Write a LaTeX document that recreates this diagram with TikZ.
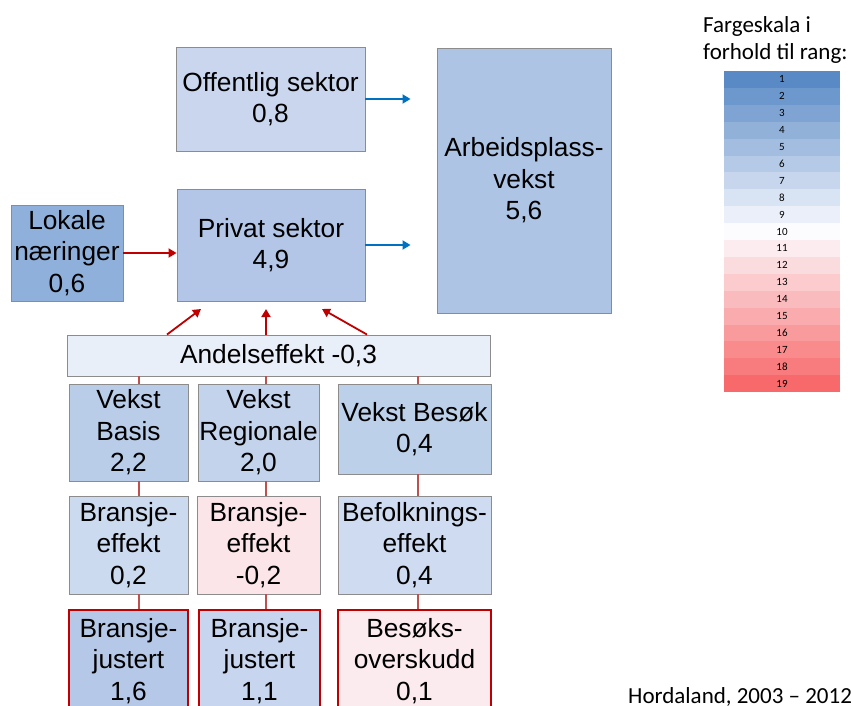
\documentclass[tikz,border=0pt]{standalone}
\usepackage{fontspec}
\setmainfont{Liberation Sans}
\newfontfamily\calfont{Carlito}
\usetikzlibrary{arrows.meta,calc}
\definecolor{boxgray}{HTML}{8C8C8C}
\definecolor{darkred}{HTML}{C00000}
\definecolor{linkred}{HTML}{C0504D}
\definecolor{flowblue}{HTML}{0070C0}
\definecolor{scaleblue}{HTML}{5A8AC6}
\definecolor{scalewhite}{HTML}{FCFCFF}
\definecolor{scalered}{HTML}{F8696B}
\definecolor{cOffentlig}{HTML}{C9D6EE}
\definecolor{cPrivat}{HTML}{B3C6E7}
\definecolor{cLokale}{HTML}{8FB0DB}
\definecolor{cArbeid}{HTML}{ADC4E5}
\definecolor{cAndel}{HTML}{E9EFF9}
\definecolor{cVBasis}{HTML}{B9CDE9}
\definecolor{cVReg}{HTML}{C3D3EC}
\definecolor{cVBesok}{HTML}{BDD0EA}
\definecolor{cBeffA}{HTML}{CCDAF0}
\definecolor{cBeffB}{HTML}{FBE5E9}
\definecolor{cBefolk}{HTML}{CEDBF0}
\definecolor{cJustA}{HTML}{B5C8E7}
\definecolor{cJustB}{HTML}{C7D6EE}
\definecolor{cBesoks}{HTML}{FBEAEE}
\newcommand{\boxfont}{\fontsize{26.3}{31.5}\selectfont}
\tikzset{
  box/.style={draw=boxgray,line width=0.9pt,inner sep=0pt,align=center,font=\boxfont},
  redbox/.style={box,draw=darkred,line width=2.4pt},
  link/.style={draw=linkred,line width=2.8pt},
  flowblue/.style={draw=flowblue,line width=1.8pt,-{Triangle[length=8pt,width=9pt]}},
  flowred/.style={draw=darkred,line width=1.8pt,-{Triangle[length=8pt,width=9pt]}},
  rank/.style={font=\calfont\fontsize{11}{12}\selectfont,inner sep=0pt},
  note/.style={font=\calfont\fontsize{23}{27}\selectfont,inner sep=0pt,align=left}
}

\begin{document}
\begin{tikzpicture}[x=1pt,y=-1pt]
\useasboundingbox (0,0) rectangle (851,706);
\clip (0,0) rectangle (851,706);
% colour scale by rank
\foreach \r in {1,...,19}{
  \pgfmathtruncatemacro{\pb}{max(0,100*(10-\r)/9)}
  \pgfmathtruncatemacro{\pr}{max(0,100*(\r-10)/9)}
  \ifnum\r<11 \colorlet{rowcol}{scaleblue!\pb!scalewhite}\else \colorlet{rowcol}{scalered!\pr!scalewhite}\fi
  \fill[rowcol] (724,{71+(\r-1)*16.9}) rectangle (840,{71+\r*16.9});
  \node[rank] (rank\r) at (782,{71+(\r-0.5)*16.9}) {\r};
}
\node[note,anchor=north west] (scalehead) at (703,16) {Fargeskala i\\forhold til rang:};
\node[note,anchor=base west] (region) at (628,703) {Hordaland, 2003 – 2012};
% upper boxes
\node[box,fill=cOffentlig,minimum width=189pt,minimum height=104pt] (offentlig) at (270.5,99) {Offentlig sektor\\0,8};
\node[box,fill=cPrivat,minimum width=188pt,minimum height=112pt] (privat) at (271,245) {Privat sektor\\4,9};
\node[box,fill=cLokale,minimum width=112pt,minimum height=96pt] (lokale) at (67,253) {Lokale\\næringer\\0,6};
\node[box,fill=cArbeid,minimum width=174pt,minimum height=265pt] (arbeid) at (524,180.5) {Arbeidsplass-\\vekst\\5,6};
\node[box,fill=cAndel,minimum width=423pt,minimum height=41pt] (andel) at (278.5,355.5) {Andelseffekt -0,3};
% three columns
\node[box,fill=cVBasis,minimum width=119pt,minimum height=97pt] (vbasis) at (128.5,432.5) {Vekst\\Basis\\2,2};
\node[box,fill=cVReg,minimum width=121pt,minimum height=97pt] (vreg) at (258.5,432.5) {Vekst\\Regionale\\2,0};
\node[box,fill=cVBesok,minimum width=153pt,minimum height=90pt] (vbesok) at (414.5,429) {Vekst Besøk\\0,4};
\node[box,fill=cBeffA,minimum width=119pt,minimum height=98pt] (beffA) at (128.5,545) {Bransje-\\effekt\\0,2};
\node[box,fill=cBeffB,minimum width=123pt,minimum height=98pt] (beffB) at (258.5,545) {Bransje-\\effekt\\-0,2};
\node[box,fill=cBefolk,minimum width=153pt,minimum height=98pt] (befolk) at (414.5,545) {Befolknings-\\effekt\\0,4};
\node[redbox,fill=cJustA,minimum width=119pt,minimum height=102pt] (justA) at (128.5,661) {Bransje-\\justert\\1,6};
\node[redbox,fill=cJustB,minimum width=121pt,minimum height=102pt] (justB) at (259.5,661) {Bransje-\\justert\\1,1};
\node[redbox,fill=cBesoks,minimum width=153pt,minimum height=102pt] (besoks) at (414.5,661) {Besøks-\\overskudd\\0,1};
% column links
\coordinate (xa) at (139,0);
\coordinate (xb) at (266,0);
\coordinate (xc) at (418,0);
\draw[link] (andel.south -| xa) -- (xa |- vbasis.north);
\draw[link] (vbasis.south -| xa) -- (xa |- beffA.north);
\draw[link] (beffA.south -| xa) -- (xa |- justA.north);
\draw[link] (andel.south -| xb) -- (xb |- vreg.north);
\draw[link] (vreg.south -| xb) -- (xb |- beffB.north);
\draw[link] (beffB.south -| xb) -- (xb |- justB.north);
\draw[link] (andel.south -| xc) -- (xc |- vbesok.north);
\draw[link] (vbesok.south -| xc) -- (xc |- befolk.north);
\draw[link] (befolk.south -| xc) -- (xc |- besoks.north);
% arrows
\coordinate (tipL) at (201,309);
\coordinate (tipM) at (266,309);
\coordinate (tipR) at (322,309);
\draw[flowred] ([xshift=-111.5pt]andel.north) -- (tipL);
\draw[flowred] ([xshift=-12.5pt]andel.north) -- (tipM);
\draw[flowred] ([xshift=88.5pt]andel.north) -- (tipR);
\draw[flowred] (lokale.east) -- (lokale.east -| privat.west);
\draw[flowblue,shorten >=26pt] (offentlig.east) -- (offentlig.east -| arbeid.west);
\draw[flowblue,shorten >=26pt] (privat.east) -- (privat.east -| arbeid.west);
\end{tikzpicture}
\end{document}
